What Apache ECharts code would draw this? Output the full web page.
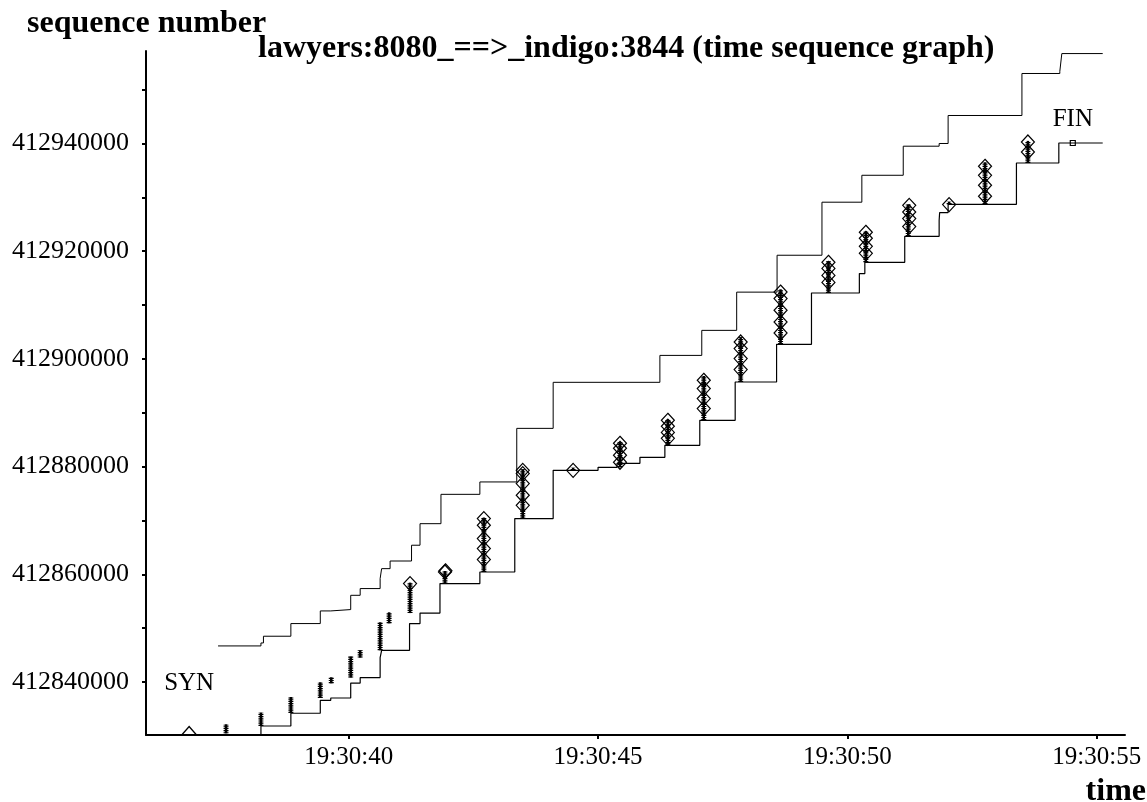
<!DOCTYPE html>
<html>
<head>
<meta charset="utf-8">
<title>lawyers:8080_==>_indigo:3844 (time sequence graph)</title>
<script src="https://cdn.jsdelivr.net/npm/echarts@6.0.0/dist/echarts.min.js"></script>
<style>
  html, body { margin: 0; padding: 0; background: #fff; }
  #chart { width: 1147px; height: 802px; }
</style>
</head>
<body>
<div id="chart"></div>
<script>
// time = seconds after 19:30:00, seq = absolute sequence number
const xTicks = [40, 45, 50, 55]
const yTicks = [412840000, 412850000, 412860000, 412870000, 412880000, 412890000,
  412900000, 412910000, 412920000, 412930000, 412940000, 412950000]
const yLabels = [412840000, 412860000, 412880000, 412900000, 412920000, 412940000]

// advertised window edge: [time of update, new value]
const windowLine = [
  [37.38, 412846700], [38.24, 412847250], [38.29, 412848500], [38.84, 412850850],
  [39.43, 412853200], [39.64, 412853450], [40.04, 412856100], [40.23, 412857350],
  [40.63, 412859200], [40.66, 412861050], [40.83, 412862470], [41.26, 412865400],
  [41.43, 412869400], [41.85, 412874850], [42.63, 412877150], [43.37, 412887100],
  [44.10, 412895650], [46.24, 412900650], [47.08, 412905300], [47.78, 412912400],
  [48.59, 412919250], [49.49, 412929100], [50.29, 412934100], [51.12, 412939500],
  [51.84, 412940000], [52.02, 412945200], [53.50, 412953000], [54.26, 412953400],
  [54.30, 412956700], [55.12, 412956700]
]

// cumulative ack: [time, acked seq]
const ackLine = [
  [38.24, 412830100], [38.24, 412831830], [38.84, 412834200], [39.43, 412836600],
  [39.64, 412837030], [40.04, 412839800], [40.23, 412840820], [40.63, 412844530],
  [40.66, 412845890], [41.22, 412850850], [41.43, 412852800], [41.83, 412858270],
  [42.63, 412860430], [43.33, 412870340], [44.10, 412879310], [45.00, 412879870],
  [45.38, 412880600], [45.84, 412881730], [46.34, 412883950], [47.04, 412888600],
  [47.75, 412895710], [48.58, 412902710], [49.28, 412912240], [50.24, 412915840],
  [50.35, 412917940], [51.15, 412922770], [51.84, 412925740], [51.85, 412927170],
  [52.02, 412928710], [53.39, 412936380], [54.24, 412940090], [55.12, 412940090]
]

// data bursts: [time, first seq, last seq]
const segments = [
  [37.54, 412830470, 412831960], [38.24, 412831830, 412834130], [38.84, 412834240, 412837030],
  [39.43, 412837030, 412839760], [39.65, 412839760, 412840690], [40.04, 412840820, 412844530],
  [40.23, 412844530, 412845700], [40.63, 412845890, 412850900], [40.81, 412850900, 412852760],
  [41.23, 412852800, 412858270], [41.93, 412858270, 412860430], [42.71, 412860430, 412870340],
  [43.49, 412870340, 412879310], [44.50, 412879310, 412879600], [45.44, 412879870, 412884330],
  [46.40, 412883950, 412888600], [47.12, 412888600, 412896640], [47.86, 412895710, 412903830],
  [48.66, 412902710, 412912740], [49.62, 412912240, 412917940], [50.37, 412917940, 412923500],
  [51.22, 412922770, 412928500], [52.04, 412928710, 412929000], [52.76, 412928710, 412936320],
  [53.62, 412936380, 412940300]
]

// diamond marks: [time, seq]
const diamonds = [
  [41.23, 412858270],
  [41.93, 412860430], [41.94, 412860650],
  [42.71, 412870340], [42.71, 412869100], [42.71, 412866630], [42.71, 412864770], [42.71, 412862730],
  [43.49, 412879310], [43.49, 412878700], [43.49, 412876840], [43.49, 412874670], [43.49, 412872810],
  [44.50, 412879310],
  [45.44, 412884330], [45.44, 412883400], [45.44, 412882100], [45.44, 412880800],
  [46.40, 412888600], [46.40, 412887500], [46.40, 412886350], [46.40, 412885250],
  [47.12, 412896030], [47.12, 412894490], [47.12, 412892630], [47.12, 412890770],
  [47.86, 412903140], [47.86, 412901910], [47.86, 412900060], [47.86, 412898010],
  [48.66, 412912420], [48.66, 412911200], [48.66, 412909030], [48.66, 412906850], [48.66, 412904810],
  [49.62, 412917940], [49.62, 412916800], [49.62, 412915500], [49.62, 412914200],
  [50.37, 412923510], [50.37, 412922400], [50.37, 412920900], [50.37, 412919600],
  [51.24, 412928520], [51.24, 412927280], [51.24, 412926050], [51.24, 412924570],
  [52.04, 412928650],
  [52.76, 412935770], [52.76, 412934090], [52.76, 412932240], [52.76, 412930200],
  [53.62, 412940280], [53.62, 412938420]
]

const synMark = [[36.80, 412830430]]
const finMark = [[54.52, 412940090]]

const font = '"Liberation Serif", "Times New Roman", serif'
const chart = echarts.init(document.getElementById('chart'))

// scatter defaults to 0.8 opacity, keep marks solid black
const hollow = { color: 'rgba(255,255,255,0)', borderColor: '#000', borderWidth: 1.2, opacity: 1 }

chart.setOption({
  animation: false,
  backgroundColor: '#fff',
  grid: { left: 146, top: 51, right: 22, bottom: 67 },
  xAxis: {
    type: 'value',
    min: 35.935,
    max: 55.567,
    axisLine: { onZero: false, lineStyle: { color: '#000', width: 2 } },
    axisTick: { customValues: xTicks, length: 4, lineStyle: { color: '#000', width: 2 } },
    axisLabel: {
      customValues: xTicks,
      formatter: v => '19:30:' + v,
      color: '#000', fontFamily: font, fontSize: 25, margin: 10
    },
    splitLine: { show: false }
  },
  yAxis: {
    type: 'value',
    min: 412830159,
    max: 412957177,
    axisLine: { onZero: false, lineStyle: { color: '#000', width: 2 } },
    axisTick: { customValues: yTicks, length: 4, lineStyle: { color: '#000', width: 2 } },
    axisLabel: {
      customValues: yLabels,
      formatter: v => String(v),
      color: '#000', fontFamily: font, fontSize: 26, margin: 17
    },
    splitLine: { show: false }
  },
  graphic: [
    { type: 'text', left: 27, top: 8, style: { text: 'sequence number', font: 'bold 32px ' + font, fill: '#000' } },
    { type: 'text', left: 258, top: 33, style: { text: 'lawyers:8080_==>_indigo:3844 (time sequence graph)', font: 'bold 32px ' + font, fill: '#000' } },
    { type: 'text', right: 1, top: 776, style: { text: 'time', font: 'bold 32px ' + font, fill: '#000' } }
  ],
  series: [
    {
      type: 'line', step: 'end', data: windowLine, showSymbol: false,
      lineStyle: { color: '#000', width: 1 }
    },
    {
      type: 'line', step: 'end', data: ackLine, showSymbol: false,
      lineStyle: { color: '#000', width: 1.2 }
    },
    {
      type: 'custom',
      data: segments,
      encode: { x: 0, y: [1, 2] },
      renderItem: (params, api) => {
        const a = api.coord([api.value(0), api.value(1)])
        const b = api.coord([api.value(0), api.value(2)])
        const shape = { x1: a[0], y1: a[1], x2: b[0], y2: b[1] - 1 }
        return {
          type: 'group',
          children: [
            { type: 'line', shape, style: { stroke: '#000', lineWidth: 5, lineDash: [1.2, 1] } },
            { type: 'line', shape, style: { stroke: '#000', lineWidth: 2.5 } }
          ]
        }
      }
    },
    {
      type: 'scatter', data: diamonds, symbol: 'diamond', symbolSize: [13, 14],
      itemStyle: hollow, z: 5
    },
    {
      // only the upper half of the SYN diamond shows above the axis
      type: 'scatter', data: synMark, symbol: 'path://M0,8L7,0L14,8',
      symbolSize: [14, 8], symbolKeepAspect: false, symbolOffset: [0, -3],
      itemStyle: hollow, clip: false,
      label: {
        show: true, formatter: 'SYN', position: 'top', distance: 0, offset: [0, -30],
        color: '#000', fontFamily: font, fontSize: 25
      }
    },
    {
      type: 'scatter', data: finMark, symbol: 'rect', symbolSize: 5,
      itemStyle: hollow,
      label: {
        show: true, formatter: 'FIN', position: 'top', distance: 0, offset: [0, -8],
        color: '#000', fontFamily: font, fontSize: 25
      }
    }
  ]
})
</script>
</body>
</html>
